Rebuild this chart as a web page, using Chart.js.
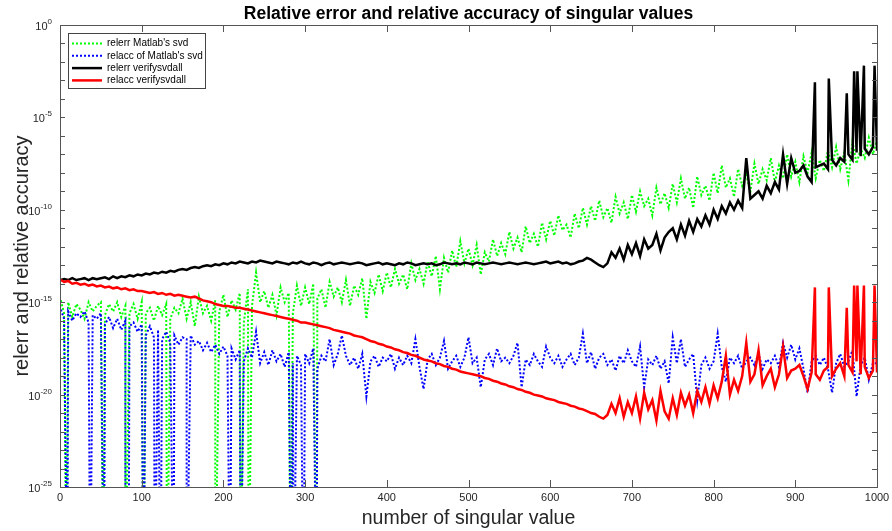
<!DOCTYPE html>
<html>
<head>
<meta charset="utf-8">
<script src="https://cdn.jsdelivr.net/npm/chart.js@4"></script>
<style>
  html, body { margin: 0; padding: 0; background: #fff; }
  canvas { display: block; }
</style>
</head>
<body>
<canvas id="svdChart" width="892" height="531"></canvas>
<script>
// values are log10 exponents, sampled every X_STEP singular values (1, 5, 10, ... 1000)
const X_STEP = 5;
const X_TICKS = [0, 100, 200, 300, 400, 500, 600, 700, 800, 900, 1000];
const Y_LABEL_EXPS = [0, -5, -10, -15, -20, -25];

const relerrSvd = [
  -14.9,-15.6,-15.0,-15.8,-15.1,-15.4,-15.9,-15.0,-15.5,-15.2,
  -15.0,-15.7,-15.1,-15.5,-15.0,-15.8,-15.2,-15.6,-15.1,-15.9,
  -15.0,-15.6,-15.3,-16.0,-15.2,-15.7,-15.1,-15.9,-15.3,-15.6,
  -14.8,-15.9,-15.0,-16.3,-14.7,-15.6,-15.2,-16.0,-14.9,-15.5,
  -14.6,-15.8,-14.9,-15.4,-14.5,-16.1,-14.3,-15.2,-13.4,-15.0,
  -14.4,-15.3,-14.6,-15.7,-14.2,-15.0,-14.5,-15.6,-14.1,-15.2,
  -14.2,-15.1,-14.0,-14.8,-14.3,-15.3,-13.9,-14.7,-14.2,-15.0,
  -13.8,-15.2,-14.1,-14.6,-13.7,-15.9,-13.9,-14.5,-13.5,-14.4,
  -13.4,-14.2,-13.2,-14.0,-13.5,-14.3,-12.9,-13.8,-13.2,-14.0,
  -12.8,-13.6,-12.5,-14.3,-12.6,-13.4,-12.2,-13.1,-11.7,-12.9,
  -12.1,-13.0,-11.9,-13.5,-12.3,-12.8,-11.6,-12.5,-11.8,-12.4,
  -11.2,-12.1,-11.5,-12.3,-10.9,-11.8,-11.3,-12.0,-10.7,-11.6,
  -10.6,-11.4,-10.3,-11.1,-10.8,-11.5,-10.2,-11.0,-9.9,-10.8,
  -9.8,-10.6,-9.5,-10.4,-9.9,-10.7,-9.3,-10.2,-9.6,-10.5,
  -9.2,-10.1,-9.0,-9.8,-9.4,-10.3,-8.8,-9.7,-9.1,-9.9,
  -8.6,-9.6,-8.3,-9.4,-8.8,-9.9,-8.2,-9.2,-8.7,-9.5,
  -8.0,-9.1,-7.6,-8.8,-8.3,-9.3,-7.8,-8.7,-8.1,-9.0,
  -7.5,-8.6,-7.8,-8.4,-7.2,-8.5,-7.6,-8.3,-7.0,-8.2,
  -7.4,-8.5,-7.1,-8.0,-6.9,-8.3,-7.3,-7.9,-6.8,-7.7,
  -6.6,-7.8,-6.9,-8.4,-6.3,-7.5,-6.7,-7.2,-6.1,-7.0,-6.2
];
const relerrSvdDropX = [8, 53, 80, 102, 131, 190, 221, 231, 282, 314];
const relerrSvdDropY = [-32, -32, -32, -32, -32, -32, -32, -32, -32, -32];

const relaccSvd = [
  -15.4,-15.9,-15.5,-16.0,-15.6,-15.8,-15.5,-16.1,-15.7,-15.9,
  -15.6,-16.2,-15.8,-16.4,-15.9,-16.5,-16.0,-16.3,-16.1,-16.6,
  -16.2,-16.8,-16.3,-16.9,-16.5,-17.0,-16.6,-17.2,-16.8,-17.3,
  -16.9,-17.0,-16.8,-17.3,-17.1,-17.6,-17.2,-17.7,-17.3,-17.8,
  -17.4,-17.9,-17.5,-18.1,-17.6,-18.2,-17.5,-18.0,-16.6,-18.3,
  -17.7,-18.4,-17.6,-18.2,-17.8,-18.5,-17.7,-18.3,-17.9,-18.4,
  -17.8,-18.3,-17.5,-18.6,-17.9,-18.2,-17.0,-18.4,-17.8,-16.8,
  -17.9,-18.4,-18.0,-18.6,-17.8,-20.1,-18.2,-17.9,-18.5,-18.0,
  -18.2,-17.8,-18.6,-18.0,-18.4,-17.9,-18.3,-17.0,-18.5,-19.7,
  -18.1,-17.8,-18.4,-18.0,-17.1,-18.6,-18.2,-17.9,-18.5,-18.0,
  -16.9,-18.3,-18.0,-19.6,-18.1,-17.8,-18.4,-17.5,-18.2,-18.0,
  -18.3,-17.9,-17.2,-19.6,-18.1,-18.4,-17.8,-18.2,-18.5,-17.4,
  -18.0,-18.3,-17.9,-18.5,-18.1,-17.8,-18.4,-18.0,-16.7,-18.3,
  -17.7,-18.6,-18.0,-17.8,-18.4,-18.1,-18.7,-17.9,-18.3,-17.6,
  -18.2,-18.5,-17.4,-19.6,-18.1,-18.4,-17.9,-18.6,-18.2,-19.4,
  -16.9,-18.3,-17.0,-18.5,-18.1,-17.8,-20.3,-18.4,-18.0,-18.6,
  -18.2,-16.7,-18.5,-19.3,-18.0,-18.3,-17.9,-18.6,-18.2,-18.0,
  -18.4,-17.8,-18.6,-18.1,-18.3,-17.9,-18.5,-17.2,-18.0,-17.3,
  -18.1,-17.5,-18.6,-19.9,-18.2,-17.9,-18.4,-18.0,-18.6,-19.9,
  -18.3,-17.8,-18.5,-18.2,-17.6,-20.1,-18.4,-18.0,-19.2,-18.3,-18.3
];
const relaccSvdDropX = [9, 37, 54, 80, 84, 102, 116, 123, 139, 155, 208, 221, 283, 286, 298, 314];
const relaccSvdDropY = [-32, -32, -32, -32, -32, -32, -32, -32, -32, -32, -32, -32, -32, -32, -32, -32];

const relerrVerify = [
  -13.8,-13.75,-13.8,-13.7,-13.8,-13.75,-13.7,-13.8,-13.7,-13.75,
  -13.7,-13.65,-13.75,-13.6,-13.7,-13.6,-13.65,-13.55,-13.6,-13.5,
  -13.55,-13.45,-13.5,-13.4,-13.45,-13.35,-13.4,-13.3,-13.35,-13.25,
  -13.2,-13.25,-13.15,-13.1,-13.15,-13.05,-13.0,-13.05,-12.95,-13.0,
  -12.9,-12.95,-12.85,-12.9,-12.8,-12.85,-12.9,-12.8,-12.85,-12.75,
  -12.8,-12.85,-12.9,-12.8,-12.85,-12.9,-12.95,-12.85,-12.9,-12.8,
  -12.9,-12.95,-12.85,-12.9,-13.0,-12.9,-12.85,-12.95,-12.9,-12.85,
  -12.9,-12.95,-12.9,-12.85,-12.9,-13.0,-12.95,-12.9,-12.85,-12.95,
  -12.9,-12.95,-13.0,-12.9,-12.95,-12.85,-12.9,-13.0,-12.95,-12.9,
  -12.95,-12.9,-13.0,-12.95,-12.85,-12.9,-12.95,-12.9,-12.95,-12.85,
  -12.9,-12.95,-12.85,-12.9,-12.95,-12.9,-12.85,-12.9,-12.95,-12.9,
  -12.85,-12.9,-12.95,-12.9,-12.85,-12.9,-12.95,-12.9,-12.85,-12.8,
  -12.9,-12.85,-12.8,-12.9,-12.85,-12.95,-12.9,-12.8,-12.75,-12.6,
  -12.7,-12.85,-13.0,-13.1,-12.9,-12.3,-12.6,-12.1,-12.7,-11.9,
  -12.4,-11.8,-12.5,-11.6,-12.1,-11.9,-11.3,-12.2,-11.5,-11.2,
  -11.0,-11.6,-10.8,-11.4,-10.6,-11.2,-10.5,-10.9,-10.3,-10.8,
  -10.0,-10.5,-9.8,-10.2,-9.6,-10.0,-9.5,-9.9,-7.2,-9.4,
  -9.2,-9.0,-9.4,-8.7,-9.1,-8.5,-8.9,-7.0,-8.6,-7.2,
  -8.0,-7.9,-7.6,-8.2,-8.5,-7.7,-7.6,-7.5,-7.8,-7.3,
  -7.6,-7.2,-7.4,-7.0,-7.3,-6.9,-7.1,-6.7,-7.0,-6.6,-6.8
];
const relaccVerify = [
  -13.8,-13.9,-13.85,-14.0,-13.95,-14.05,-14.0,-14.1,-14.05,-14.15,
  -14.1,-14.2,-14.15,-14.25,-14.2,-14.3,-14.25,-14.35,-14.3,-14.4,
  -14.4,-14.45,-14.5,-14.45,-14.55,-14.5,-14.6,-14.55,-14.65,-14.6,
  -14.65,-14.7,-14.75,-14.7,-14.8,-14.9,-14.95,-15.0,-15.1,-15.15,
  -15.2,-15.2,-15.25,-15.3,-15.3,-15.35,-15.4,-15.45,-15.5,-15.55,
  -15.6,-15.65,-15.7,-15.75,-15.8,-15.85,-15.9,-15.95,-16.0,-16.1,
  -16.1,-16.15,-16.2,-16.25,-16.3,-16.35,-16.4,-16.5,-16.55,-16.6,
  -16.65,-16.7,-16.8,-16.85,-16.9,-17.0,-17.1,-17.15,-17.25,-17.3,
  -17.4,-17.45,-17.55,-17.6,-17.7,-17.75,-17.85,-17.9,-18.0,-18.1,
  -18.15,-18.2,-18.3,-18.35,-18.45,-18.5,-18.6,-18.65,-18.75,-18.8,
  -18.85,-18.9,-18.95,-19.0,-19.1,-19.15,-19.25,-19.3,-19.4,-19.45,
  -19.55,-19.6,-19.7,-19.75,-19.85,-19.9,-20.0,-20.05,-20.1,-20.2,
  -20.25,-20.3,-20.4,-20.45,-20.5,-20.6,-20.65,-20.75,-20.8,-20.9,
  -21.0,-21.05,-21.2,-21.3,-21.1,-20.5,-21.0,-20.2,-21.2,-20.4,
  -21.0,-20.1,-21.3,-19.9,-20.8,-20.3,-21.4,-19.8,-20.9,-21.3,
  -20.2,-21.1,-19.9,-20.6,-20.0,-21.0,-19.8,-20.4,-19.6,-20.5,
  -19.5,-20.2,-19.3,-17.9,-20.0,-19.2,-19.8,-19.0,-17.2,-19.3,
  -18.9,-17.6,-19.5,-19.0,-18.6,-19.6,-18.9,-17.4,-19.1,-18.7,
  -18.6,-18.4,-19.0,-19.7,-18.8,-18.9,-19.2,-18.7,-18.5,-19.0,
  -18.6,-18.3,-19.0,-18.4,-18.8,-18.2,-18.9,-18.5,-19.1,-18.7,-18.8
];
// isolated spikes shared by both verifysvdall curves
const verifySpikeX = [924, 941, 963, 972, 976, 984, 997];
const relerrVerifySpikeY = [-3.1, -2.9, -3.7, -2.5, -2.5, -2.2, -2.2];
const relaccVerifySpikeY = [-14.2, -14.2, -15.3, -14.1, -14.1, -14.1, -14.1];

const FONT = "'Liberation Sans', Arial, Helvetica, sans-serif";
const AXIS_COLOR = '#555';
const TEXT_COLOR = '#262626';

function toPoints(exps, extraX = [], extraY = []) {
    const pts = exps.map((e, i) => ({ x: Math.max(1, i * X_STEP), y: Math.pow(10, e) }));
    extraX.forEach((x, i) => pts.push({ x, y: Math.pow(10, extraY[i]) }));
    return pts.sort((a, b) => a.x - b.x);
}

const datasets = [
    { label: "relerr Matlab's svd", data: toPoints(relerrSvd, relerrSvdDropX, relerrSvdDropY), borderColor: '#00ff00', borderWidth: 2, borderDash: [2, 2], order: 4 },
    { label: "relacc of Matlab's svd", data: toPoints(relaccSvd, relaccSvdDropX, relaccSvdDropY), borderColor: '#0000ff', borderWidth: 2, borderDash: [2, 2], order: 3 },
    { label: 'relerr verifysvdall', data: toPoints(relerrVerify, verifySpikeX, relerrVerifySpikeY), borderColor: '#000000', borderWidth: 2.5, order: 2 },
    { label: 'relacc verifysvdall', data: toPoints(relaccVerify, verifySpikeX, relaccVerifySpikeY), borderColor: '#ff0000', borderWidth: 2.5, order: 1 }
];
datasets.forEach(d => { d.pointRadius = 0; d.tension = 0; d.fill = false; });

// Matlab-like axes box, inward ticks, labels and legend
const matlabAxes = {
    id: 'matlabAxes',
    afterDatasetsDraw(chart) {
        const ctx = chart.ctx;
        const a = chart.chartArea;
        const xs = chart.scales.x, ys = chart.scales.y;
        ctx.save();
        ctx.strokeStyle = AXIS_COLOR;
        ctx.lineWidth = 1;
        ctx.strokeRect(a.left + 0.5, a.top + 0.5, a.right - a.left, a.bottom - a.top);

        ctx.beginPath();
        X_TICKS.forEach(v => {
            const px = Math.round(xs.getPixelForValue(v)) + 0.5;
            ctx.moveTo(px, a.bottom); ctx.lineTo(px, a.bottom - 7);
            ctx.moveTo(px, a.top); ctx.lineTo(px, a.top + 7);
        });
        for (let e = 0; e >= -25; e--) {
            const py = Math.round(ys.getPixelForValue(Math.pow(10, e))) + 0.5;
            ctx.moveTo(a.left, py); ctx.lineTo(a.left + 5, py);
            ctx.moveTo(a.right, py); ctx.lineTo(a.right - 5, py);
        }
        ctx.stroke();

        // tick labels
        ctx.fillStyle = TEXT_COLOR;
        ctx.font = '11px ' + FONT;
        ctx.textAlign = 'center';
        ctx.textBaseline = 'top';
        X_TICKS.forEach(v => ctx.fillText(String(v), xs.getPixelForValue(v), a.bottom + 5));

        ctx.textAlign = 'left';
        ctx.textBaseline = 'alphabetic';
        Y_LABEL_EXPS.forEach(e => {
            const py = ys.getPixelForValue(Math.pow(10, e));
            const sup = String(e);
            ctx.font = '8px ' + FONT;
            const supW = ctx.measureText(sup).width;
            ctx.font = '11px ' + FONT;
            const baseW = ctx.measureText('10').width;
            const x0 = a.left - 8 - supW - baseW;
            ctx.fillText('10', x0, py + 5);
            ctx.font = '8px ' + FONT;
            ctx.fillText(sup, x0 + baseW, py - 1);
        });

        // titles
        ctx.fillStyle = '#000';
        ctx.textAlign = 'center';
        ctx.font = 'bold 17.5px ' + FONT;
        ctx.fillText('Relative error and relative accuracy of singular values', (a.left + a.right) / 2, 19);
        ctx.fillStyle = TEXT_COLOR;
        ctx.font = '19.5px ' + FONT;
        ctx.textBaseline = 'middle';
        ctx.fillText('number of singular value', (a.left + a.right) / 2, 519);
        ctx.save();
        ctx.translate(22, (a.top + a.bottom) / 2);
        ctx.rotate(-Math.PI / 2);
        ctx.font = '20px ' + FONT;
        ctx.fillText('relerr and relative accuracy', 0, 0);
        ctx.restore();

        // legend box
        const lx = 68, ly = 33, lw = 137, lh = 55;
        ctx.fillStyle = '#fff';
        ctx.fillRect(lx, ly, lw, lh);
        ctx.strokeStyle = '#444';
        ctx.strokeRect(lx + 0.5, ly + 0.5, lw, lh);
        ctx.font = '10px ' + FONT;
        ctx.textAlign = 'left';
        ctx.textBaseline = 'middle';
        datasets.forEach((d, i) => {
            const ry = ly + 10.5 + i * 12.3;
            ctx.strokeStyle = d.borderColor;
            ctx.lineWidth = d.borderWidth;
            ctx.setLineDash(d.borderDash || []);
            ctx.beginPath();
            ctx.moveTo(lx + 4, ry); ctx.lineTo(lx + 34, ry);
            ctx.stroke();
            ctx.setLineDash([]);
            ctx.fillStyle = '#000';
            ctx.fillText(d.label, lx + 39, ry);
        });
        ctx.restore();
    }
};

new Chart(document.getElementById('svdChart'), {
    type: 'line',
    data: { datasets },
    options: {
        responsive: false,
        animation: false,
        layout: { padding: { left: 60, top: 25, right: 15, bottom: 44 } },
        plugins: { legend: { display: false }, title: { display: false }, tooltip: { enabled: false } },
        scales: {
            x: { type: 'linear', min: 0, max: 1000, display: false },
            y: { type: 'logarithmic', min: 1e-25, max: 1, display: false }
        }
    },
    plugins: [matlabAxes]
});
</script>
</body>
</html>
